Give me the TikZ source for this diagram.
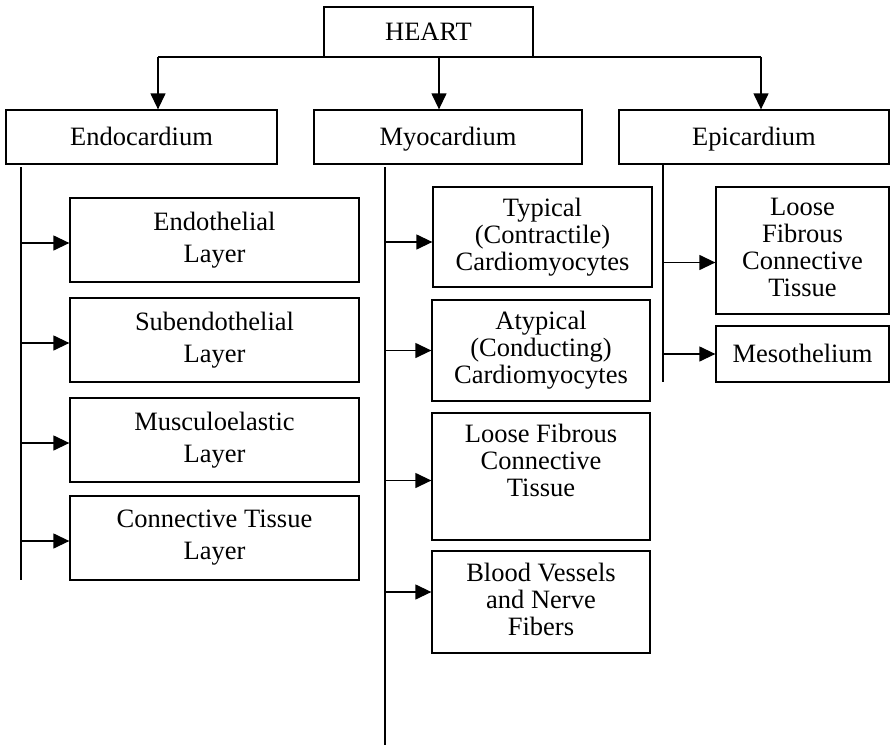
\documentclass[tikz,border=0pt]{standalone}
\usepackage{fontspec}
\setmainfont{Liberation Serif}
\usetikzlibrary{arrows.meta}
\newcommand\vstrut{\rule[-6pt]{0pt}{29.6pt}}
\begin{document}
\begin{tikzpicture}[x=1pt,y=-1pt,
  box/.style={draw, line width=1.3pt, rectangle, inner sep=0pt, align=center,
    font=\fontsize{26.5}{27}\selectfont,
    execute at begin node=\vstrut, execute at end node=\vstrut},
  widebox/.style={box, font=\fontsize{26.5}{32}\selectfont},
  conn/.style={line width=1.3pt},
  arr/.style={line width=1.3pt, -{Triangle[length=16pt,width=15pt]}}]
\useasboundingbox (0,0) rectangle (891,752);
% top level
\node[box, minimum width=209pt, minimum height=50pt] (heart) at (428.5,32) {HEART};
\node[box, minimum width=271pt, minimum height=54pt] (endo) at (141.5,137) {Endocardium};
\node[box, minimum width=268pt, minimum height=54pt] (myo) at (448,137) {Myocardium};
\node[box, minimum width=270pt, minimum height=54pt] (epi) at (754,137) {Epicardium};
% endocardium children
\node[widebox, minimum width=289pt, minimum height=84pt] (e1) at (214.5,240) {Endothelial\\Layer};
\node[widebox, minimum width=289pt, minimum height=84pt] (e2) at (214.5,340) {Subendothelial\\Layer};
\node[widebox, minimum width=289pt, minimum height=84pt] (e3) at (214.5,440) {Musculoelastic\\Layer};
\node[widebox, minimum width=289pt, minimum height=84pt] (e4) at (214.5,538) {Connective Tissue\\Layer};
% myocardium children
\node[box, minimum width=219pt, minimum height=100pt] (m1) at (542.5,237) {Typical\\(Contractile)\\Cardiomyocytes};
\node[box, minimum width=218pt, minimum height=101pt] (m2) at (541,350.5) {Atypical\\(Conducting)\\Cardiomyocytes};
\node[box, minimum width=218pt, minimum height=127pt] (m3) at (541,476.5) {Loose Fibrous\\Connective\\Tissue\\\mbox{}};
\node[box, minimum width=218pt, minimum height=102pt] (m4) at (541,602) {Blood Vessels\\and Nerve\\Fibers};
% epicardium children
\node[box, minimum width=173pt, minimum height=127pt] (p1) at (802.5,250.5) {Loose\\Fibrous\\Connective\\Tissue};
\node[box, minimum width=173pt, minimum height=56pt] (p2) at (802.5,354) {Mesothelium};
% junction coordinates
\coordinate (jl) at (158,57);
\coordinate (jm) at (439,57);
\coordinate (jr) at (761,57);
\coordinate (elt) at (21,167);
\coordinate (elb) at (21,580);
\coordinate (mlt) at (385,167);
\coordinate (mlb) at (385,745);
\coordinate (plt) at (663,165);
\coordinate (plb) at (663,382);
% top connectors
\draw[conn] (jl) -- (jr);
\draw[arr] (jl) -- (jl |- endo.north);
\draw[arr] (jm) -- (jm |- myo.north);
\draw[arr] (jr) -- (jr |- epi.north);
% vertical spines
\draw[conn] (elt) -- (elb);
\draw[conn] (mlt) -- (mlb);
\draw[conn] (plt) -- (plb);
% side arrows
\foreach \n in {e1,e2,e3,e4} {\draw[arr] ([yshift=-3pt]\n.west -| elt) -- ([yshift=-3pt]\n.west);}
\draw[arr] ([yshift=-5pt]m1.west -| mlt) -- ([yshift=-5pt]m1.west);
\draw[arr] (m2.west -| mlt) -- (m2.west);
\draw[arr] ([yshift=-4pt]m3.west -| mlt) -- ([yshift=-4pt]m3.west);
\draw[arr] ([yshift=10pt]m4.west -| mlt) -- ([yshift=10pt]m4.west);
\draw[arr] ([yshift=-12pt]p1.west -| plt) -- ([yshift=-12pt]p1.west);
\draw[arr] (p2.west -| plt) -- (p2.west);
\end{tikzpicture}
\end{document}
